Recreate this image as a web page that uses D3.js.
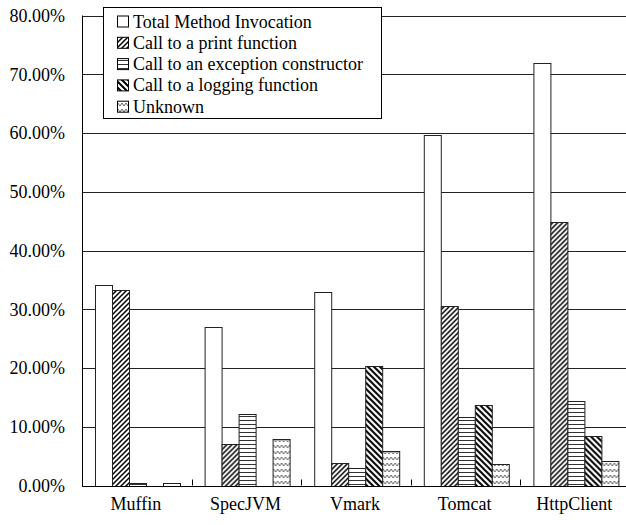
<!DOCTYPE html>
<html><head><meta charset="utf-8"><script src="https://cdn.jsdelivr.net/npm/d3@7/dist/d3.min.js"></script></head>
<body style="margin:0">
<svg id="chart" width="626" height="525"></svg>
<script>
const categories = ["Muffin", "SpecJVM", "Vmark", "Tomcat", "HttpClient"];
const seriesNames = [
  "Total Method Invocation",
  "Call to a print function",
  "Call to an exception constructor",
  "Call to a logging function",
  "Unknown"
];
const totalInvocation = [0.342, 0.270, 0.329, 0.597, 0.719];
const printCalls      = [0.333, 0.070, 0.039, 0.306, 0.448];
const exceptionCalls  = [0.004, 0.1215, 0.030, 0.117, 0.144];
const loggingCalls    = [0.000, 0.000, 0.204, 0.137, 0.085];
const unknownCalls    = [0.005, 0.080, 0.058, 0.036, 0.0415];
const yTicks = [0, 0.1, 0.2, 0.3, 0.4, 0.5, 0.6, 0.7, 0.8];

const seriesValues = [totalInvocation, printCalls, exceptionCalls, loggingCalls, unknownCalls];
const fills = ["#fff", "url(#pPrint)", "url(#pExc)", "url(#pLog)", "url(#pUnk)"];
const FONT = '"Liberation Serif"';
const BASE = 14, K = 18 / 14;

const svg = d3.select("#chart");
const defs = svg.append("defs");

const pp = defs.append("pattern").attr("id", "pPrint").attr("patternUnits", "userSpaceOnUse")
  .attr("width", 5).attr("height", 5);
pp.append("rect").attr("width", 5).attr("height", 5).attr("fill", "#fff");
pp.append("path").attr("d", "M-1,1 L1,-1 M0,5 L5,0 M4,6 L6,4").attr("stroke", "#000").attr("stroke-width", 1.5);

const pe = defs.append("pattern").attr("id", "pExc").attr("patternUnits", "userSpaceOnUse")
  .attr("width", 4).attr("height", 4);
pe.append("rect").attr("width", 4).attr("height", 4).attr("fill", "#fff");
pe.append("line").attr("x1", 0).attr("x2", 4).attr("y1", 0.5).attr("y2", 0.5).attr("stroke", "#333").attr("stroke-width", 1);

const pl = defs.append("pattern").attr("id", "pLog").attr("patternUnits", "userSpaceOnUse")
  .attr("width", 6).attr("height", 6);
pl.append("rect").attr("width", 6).attr("height", 6).attr("fill", "#fff");
pl.append("path").attr("d", "M-1,5 L1,7 M0,0 L6,6 M5,-1 L7,1").attr("stroke", "#000").attr("stroke-width", 2);

const pu = defs.append("pattern").attr("id", "pUnk").attr("patternUnits", "userSpaceOnUse")
  .attr("width", 8).attr("height", 6);
pu.append("rect").attr("width", 8).attr("height", 6).attr("fill", "#fff");
pu.append("path").attr("d", "M0,4 L2,1 L4,4 L6,1 L8,4").attr("fill", "none").attr("stroke", "#666").attr("stroke-width", 1);

const x = d3.scaleBand().domain(categories).range([82, 82 + 5 * 109.6]).paddingInner(0).paddingOuter(0);
const xs = d3.scaleBand().domain(d3.range(5)).range([13, 13 + 85]).padding(0);
const y = d3.scaleLinear().domain([0, 0.8]).range([485.5, 15.5]);

function label(sel, fx, fy) {
  return sel.attr("x", 0).attr("y", 0)
    .attr("transform", (d, i) => `translate(${fx(d, i)},${fy(d, i)}) scale(${K})`)
    .attr("font-size", BASE).style("font-family", FONT).attr("fill", "#000");
}

svg.append("g").selectAll("line").data(yTicks).join("line")
  .attr("x1", 82).attr("x2", 640)
  .attr("y1", d => Math.round(y(d)) + 0.5).attr("y2", d => Math.round(y(d)) + 0.5)
  .attr("stroke", "#222").attr("stroke-width", 1);

svg.append("line").attr("x1", 82.5).attr("x2", 82.5).attr("y1", y(0.8)).attr("y2", y(0) + 1)
  .attr("stroke", "#000");

const fmt = d3.format(".2%");
label(svg.append("g").selectAll("text").data(yTicks).join("text"), () => 65, d => y(d))
  .attr("dy", "0.36em").attr("text-anchor", "end")
  .text(d => fmt(d));

const groups = svg.append("g").selectAll("g").data(categories).join("g")
  .attr("transform", d => `translate(${x(d)},0)`);
groups.selectAll("rect")
  .data((c, ci) => seriesValues.map((vals, si) => ({ si, v: vals[ci] })).filter(d => d.v > 0))
  .join("rect")
  .attr("x", d => Math.round(xs(d.si)) + 0.5)
  .attr("width", xs.bandwidth())
  .attr("y", d => Math.round(y(d.v)) + 0.5)
  .attr("height", d => Math.max(0, Math.round(y(0)) - Math.round(y(d.v))))
  .attr("fill", d => fills[d.si])
  .attr("stroke", "#222").attr("stroke-width", 1);

svg.append("line").attr("x1", 82).attr("x2", 640).attr("y1", Math.round(y(0)) + 0.5).attr("y2", Math.round(y(0)) + 0.5)
  .attr("stroke", "#000");

svg.append("g").selectAll("line").data(categories.slice(1)).join("line")
  .attr("x1", d => Math.round(x(d)) + 0.5).attr("x2", d => Math.round(x(d)) + 0.5)
  .attr("y1", y(0) - 6).attr("y2", y(0))
  .attr("stroke", "#000");

label(svg.append("g").selectAll("text").data(categories).join("text"),
      d => x(d) + x.bandwidth() / 2 - 1, () => 509.5)
  .attr("text-anchor", "middle")
  .text(d => d);

const lg = svg.append("g");
lg.append("rect").attr("x", 103.5).attr("y", 7.5).attr("width", 278).attr("height", 111)
  .attr("fill", "#fff").attr("stroke", "#000");
lg.selectAll("rect.sw").data(seriesNames).join("rect").attr("class", "sw")
  .attr("x", 117.5).attr("y", (d, i) => 27.5 + i * 21.3 - 11.5).attr("width", 11).attr("height", 11)
  .attr("fill", (d, i) => fills[i]).attr("stroke", "#000");
label(lg.selectAll("text").data(seriesNames).join("text"), () => 133, (d, i) => 27.5 + i * 21.3)
  .text(d => d);
</script>
</body>
</html>
